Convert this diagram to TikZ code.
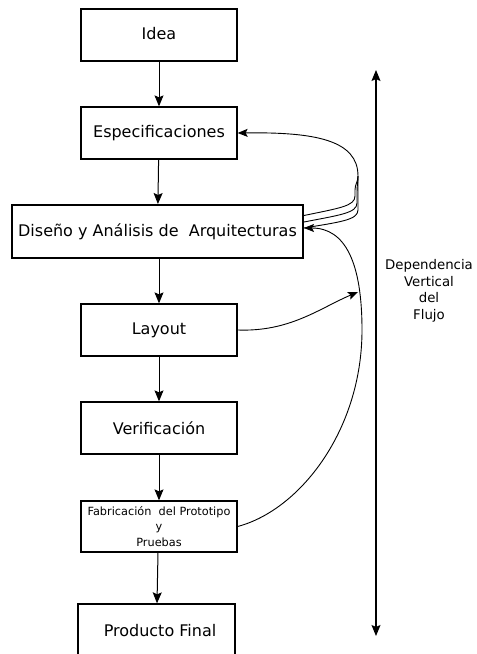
\documentclass[tikz,border=0pt]{standalone}
\usepackage{fontspec}
\setmainfont{DejaVu Sans}
\usetikzlibrary{arrows.meta}
\begin{document}
\begin{tikzpicture}[x=1pt,y=-1pt,
  box/.style={draw, line width=1.3pt, minimum width=156pt, minimum height=52pt, inner sep=0pt, align=center, font=\fontsize{16}{19}\selectfont},
  flow/.style={line width=1pt, -{Stealth[length=11pt,width=9pt,inset=2pt]}},
  fb/.style={line width=0.9pt}]
\useasboundingbox (0,0) rectangle (477,654);
\node[box] (idea) at (159,35) {\raisebox{3pt}{Idea}};
\node[box] (esp) at (159,133) {Especificaciones};
\node[box, line width=2pt, minimum width=291pt, minimum height=53pt] (dis) at (157.5,231.5) {Diseño y Análisis de\ \ Arquitecturas};
\node[box] (lay) at (159,330) {Layout};
\node[box] (ver) at (159,428) {Verificación};
\node[box, minimum height=51pt, font=\fontsize{11.3}{15.5}\selectfont] (fab) at (159,526.5) {Fabricación\ \ del Prototipo\\y\\Pruebas};
\node[box, minimum width=157pt, minimum height=56pt] (prod) at (156.5,632) {\raisebox{3pt}{\hspace*{7pt}Producto Final}};
\draw[flow] (idea) -- (esp);
\draw[flow] (esp) -- (dis);
\draw[flow] (dis.south -| lay.north) -- (lay);
\draw[flow] (lay) -- (ver);
\draw[flow] (ver) -- (fab);
\draw[flow] ([xshift=-1pt]fab.south) -- ([xshift=0.5pt]prod.north);
% feedback curves to Especificaciones
\coordinate (m) at (358,176);
\draw[fb, -{Stealth[length=10pt,width=8pt,inset=2pt]}] ([yshift=3.5pt]dis.east) .. controls (340,222) and (358,220) .. (358,210) -- (m) .. controls (358,140) and (315,132) .. (esp.east);
\draw[fb] ([yshift=9.5pt]dis.east) .. controls (340,215) and (357,213) .. (357,203) -- (357,192) .. controls (357,185) and (358,182) .. (m);
\draw[fb] ([yshift=16pt]dis.east) .. controls (340,208) and (355,206) .. (355,196) -- (355,190) .. controls (355,184) and (358,182) .. (m);
% from Fabricacion to Diseno
\draw[fb, -{Stealth[length=10pt,width=8pt,inset=2pt]}] (fab.east) .. controls (300,510) and (362,430) .. (362,330) .. controls (362,262) and (345,228) .. ([yshift=3.5pt]dis.east);
% from Layout to the curve
\coordinate (hit) at (358,292);
\draw[fb, -{Stealth[length=10pt,width=8pt,inset=2pt]}] (lay.east) .. controls (290,332) and (320,308) .. (hit);
% vertical dependency arrow
\coordinate (vt) at (376,70);
\coordinate (vb) at (376,636);
\draw[line width=1.2pt, {Stealth[length=11pt,width=9pt,inset=2pt]}-{Stealth[length=11pt,width=9pt,inset=2pt]}] (vt) -- (vb);
\node[align=center, font=\fontsize{13.3}{16.5}\selectfont] (lbl) at (429,291) {Dependencia\\Vertical\\del\\Flujo};
\end{tikzpicture}
\end{document}
